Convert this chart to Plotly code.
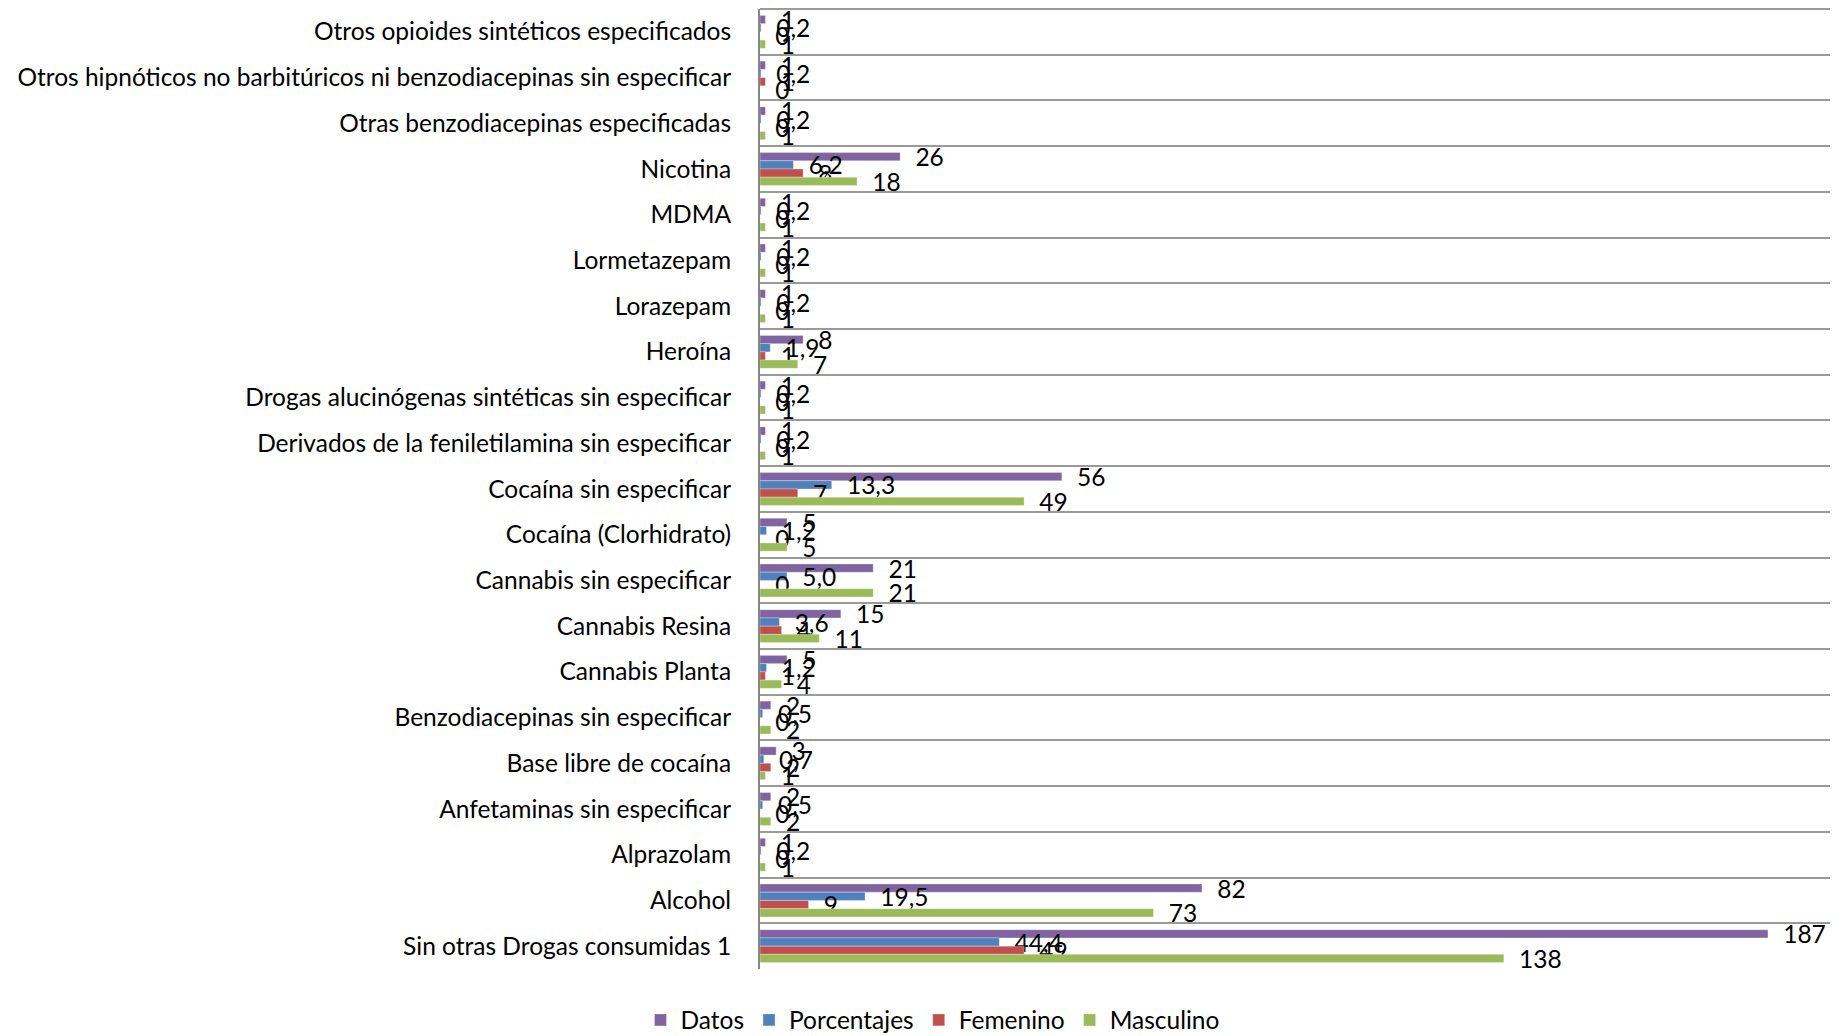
import plotly.graph_objects as go

categories = [
    "Otros opioides sintéticos especificados",
    "Otros hipnóticos no barbitúricos ni benzodiacepinas sin especificar",
    "Otras benzodiacepinas especificadas",
    "Nicotina",
    "MDMA",
    "Lormetazepam",
    "Lorazepam",
    "Heroína",
    "Drogas alucinógenas sintéticas sin especificar",
    "Derivados de la feniletilamina sin especificar",
    "Cocaína sin especificar",
    "Cocaína (Clorhidrato)",
    "Cannabis sin especificar",
    "Cannabis Resina",
    "Cannabis Planta",
    "Benzodiacepinas sin especificar",
    "Base libre de cocaína",
    "Anfetaminas sin especificar",
    "Alprazolam",
    "Alcohol",
    "Sin otras Drogas consumidas 1",
]

datos = [1, 1, 1, 26, 1, 1, 1, 8, 1, 1, 56, 5, 21, 15, 5, 2, 3, 2, 1, 82, 187]
porcentajes = [0.2, 0.2, 0.2, 6.2, 0.2, 0.2, 0.2, 1.9, 0.2, 0.2, 13.3, 1.2, 5.0, 3.6, 1.2, 0.5, 0.7, 0.5, 0.2, 19.5, 44.4]
femenino = [0, 1, 0, 8, 0, 0, 0, 1, 0, 0, 7, 0, 0, 4, 1, 0, 2, 0, 0, 9, 49]
masculino = [1, 0, 1, 18, 1, 1, 1, 7, 1, 1, 49, 5, 21, 11, 4, 2, 1, 2, 1, 73, 138]

series = [
    ("Datos", datos, "#8064A2", False),
    ("Porcentajes", porcentajes, "#4F81BD", True),
    ("Femenino", femenino, "#C0504D", False),
    ("Masculino", masculino, "#9BBB59", False),
]

FONT = "Lato, Roboto, sans-serif"
SIZE = 24.5

fig = go.Figure()
for name, vals, color, dec in series:
    if dec:
        txt = [f"{v:.1f}".replace(".", ",") for v in vals]
    else:
        txt = [str(v) for v in vals]
    fig.add_trace(go.Bar(
        name=name, y=categories, x=vals, orientation="h",
        marker=dict(color=color, line=dict(color="rgba(255,255,255,0.6)", width=0.5)),
        text=txt, textposition="outside", cliponaxis=False,
        constraintext="none",
        texttemplate="\u2002%{text}",
        textfont=dict(family=FONT, size=SIZE, color="#000000"),
    ))

fig.add_shape(type="line", xref="paper", yref="paper", x0=0, x1=1, y0=1, y1=1,
              line=dict(color="#9a9a9a", width=2))

fig.update_layout(
    width=1830, height=1028,
    barmode="group", bargap=0.28, bargroupgap=0,
    paper_bgcolor="white", plot_bgcolor="white",
    margin=dict(l=752, r=0, t=1, b=67, autoexpand=False),
    font=dict(family=FONT, size=SIZE, color="#000000"),
    legend=dict(orientation="h", x=0.16, xanchor="center", yref="container",
                y=0.0156, yanchor="middle",
                font=dict(family=FONT, size=SIZE), itemwidth=30, tracegroupgap=0),
    xaxis=dict(range=[0, 200], showticklabels=False, showgrid=False, zeroline=False,
               showline=False, automargin=False),
    yaxis=dict(autorange="reversed", tickson="boundaries", showgrid=True,
               gridcolor="#9a9a9a", gridwidth=2, showline=True, linecolor="#868686",
               linewidth=2, ticks="", ticklabelstandoff=22, automargin=False,
               tickfont=dict(family=FONT, size=SIZE, color="#000000")),
)

fig.write_html("out.html")
